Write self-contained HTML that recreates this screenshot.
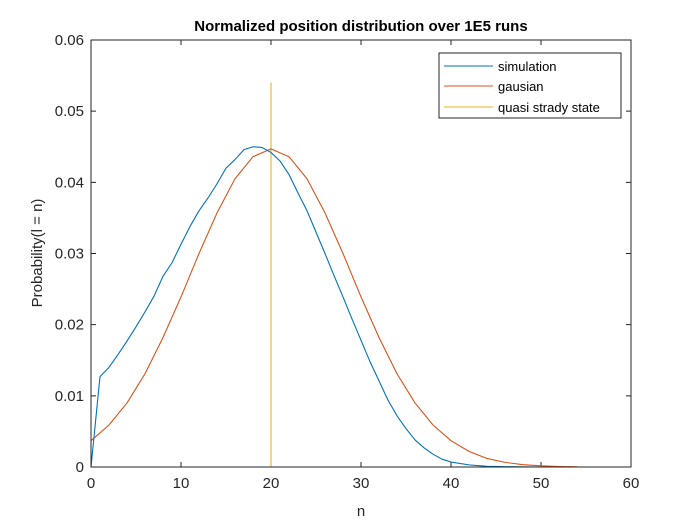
<!DOCTYPE html>
<html><head><meta charset="utf-8"><style>
html,body{margin:0;padding:0;background:#fff;}
svg{display:block;font-family:"Liberation Sans",Arial,sans-serif;}
</style></head><body>
<svg id="chart" width="700" height="525" viewBox="0 0 700 525">
<rect x="0" y="0" width="700" height="525" fill="#fff"/>
<rect x="91" y="40" width="540" height="427" fill="#fff"/>
<text x="361" y="31" text-anchor="middle" font-size="15" font-weight="bold" fill="#000">Normalized position distribution over 1E5 runs</text>
<g id="ticks"></g>
<g id="series"></g>
<path d="M91 40 H631 V467 H91 Z" fill="none" stroke="#262626" stroke-width="1"/>
<text x="361" y="516" text-anchor="middle" font-size="15" fill="#262626">n</text>
<text transform="translate(42,253) rotate(-90)" text-anchor="middle" font-size="15" fill="#262626">Probability(l = n)</text>
<g>
<rect x="439" y="53" width="182" height="65" fill="#fff" stroke="#262626" stroke-width="1"/>
<line x1="444" y1="66" x2="493" y2="66" stroke="#0072BD"/>
<text x="498" y="71" font-size="13" fill="#000">simulation</text>
<line x1="444" y1="86" x2="493" y2="86" stroke="#D95319"/>
<text x="498" y="91" font-size="13" fill="#000">gausian</text>
<line x1="444" y1="107" x2="493" y2="107" stroke="#EDB120"/>
<text x="498" y="112" font-size="13" fill="#000">quasi strady state</text>
</g>
</svg>
<script>
const xTicks = [0, 10, 20, 30, 40, 50, 60];
const yTicks = [0, 0.01, 0.02, 0.03, 0.04, 0.05, 0.06];
const yTickLabels = ["0", "0.01", "0.02", "0.03", "0.04", "0.05", "0.06"];
const simN = [0,1,2,3,4,5,6,7,8,9,10,11,12,13,14,15,16,17,18,19,20,21,22,23,24,25,26,27,28,29,30,31,32,33,34,35,36,37,38,39,40,42,44,46,50];
const simP = [0,0.0127,0.0140,0.0158,0.0177,0.0197,0.0218,0.0240,0.0268,0.0287,0.0313,0.0338,0.0360,0.0378,0.0398,0.0420,0.0432,0.0446,0.0450,0.0449,0.0442,0.0430,0.0411,0.0385,0.0360,0.0330,0.0300,0.0269,0.0239,0.0208,0.0178,0.0148,0.0121,0.0094,0.0072,0.0054,0.0038,0.0027,0.0018,0.0011,0.0007,0.0003,0.0001,0.00005,0];
const gaussN = [0,2,4,6,8,10,12,14,16,18,20,22,24,26,28,30,32,34,36,38,40,42,44,46,48,50,52,54];
const gaussP = [0.0037,0.0059,0.0090,0.0131,0.0182,0.0239,0.0300,0.0357,0.0405,0.0436,0.0447,0.0436,0.0405,0.0357,0.0300,0.0239,0.0182,0.0131,0.0090,0.0059,0.0037,0.0022,0.0012,0.00065,0.00033,0.00016,0.00007,0.00003];
const steadyN = [20, 20];
const steadyP = [0, 0.054];

const NS = "http://www.w3.org/2000/svg";
const X0 = 91, X1 = 631, Y0 = 467, Y1 = 40;
function xs(v){ return X0 + (v - 0) / 60 * (X1 - X0); }
function ys(v){ return Y0 - (v - 0) / 0.06 * (Y0 - Y1); }

const tg = document.getElementById('ticks');
xTicks.forEach(function(t){
  const x = xs(t);
  const l = document.createElementNS(NS,'path');
  l.setAttribute('d','M'+x+' '+Y0+' V'+(Y0-5)+' M'+x+' '+Y1+' V'+(Y1+5));
  l.setAttribute('stroke','#262626');
  
  
  tg.appendChild(l);
  const tx = document.createElementNS(NS,'text');
  tx.setAttribute('x',x); tx.setAttribute('y',Y0+21);
  tx.setAttribute('text-anchor','middle'); tx.setAttribute('font-size','15'); tx.setAttribute('fill','#262626');
  tx.textContent = String(t);
  
  
  tg.appendChild(tx);
});
yTicks.forEach(function(t,i){
  const y = ys(t);
  const l = document.createElementNS(NS,'path');
  l.setAttribute('d','M'+X0+' '+y+' H'+(X0+5)+' M'+X1+' '+y+' H'+(X1-5));
  l.setAttribute('stroke','#262626');
  
  
  tg.appendChild(l);
  const tx = document.createElementNS(NS,'text');
  tx.setAttribute('x',X0-7); tx.setAttribute('y',y+5);
  tx.setAttribute('text-anchor','end'); tx.setAttribute('font-size','15'); tx.setAttribute('fill','#262626');
  tx.textContent = yTickLabels[i];
  
  
  tg.appendChild(tx);
});

const sg = document.getElementById('series');
function addLine(nArr, pArr, color, name){
  const p = document.createElementNS(NS,'polyline');
  p.setAttribute('points', nArr.map(function(n,i){ return xs(n).toFixed(2)+','+ys(pArr[i]).toFixed(2); }).join(' '));
  p.setAttribute('fill','none'); p.setAttribute('stroke',color); p.setAttribute('stroke-width','1.1');
  p.setAttribute('stroke-linejoin','round');
  
  
  sg.appendChild(p);
}
addLine(steadyN, steadyP, '#EDB120', 'steady-state-line');
addLine(gaussN, gaussP, '#D95319', 'gausian-line');
addLine(simN, simP, '#0072BD', 'simulation-line');
</script>
</body></html>
